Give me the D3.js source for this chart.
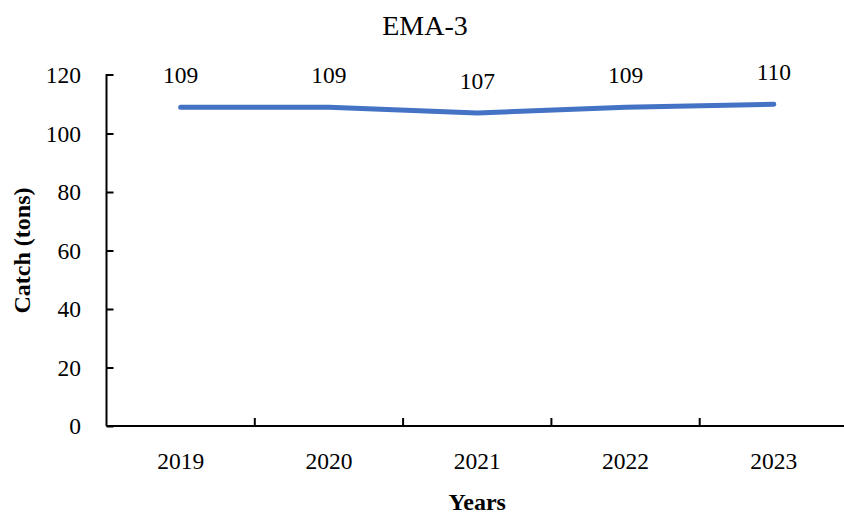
<!DOCTYPE html>
<html>
<head>
<meta charset="utf-8">
<script src="https://cdn.jsdelivr.net/npm/d3@7"></script>
<style>
  html, body { margin: 0; padding: 0; background: #fff; }
  svg { display: block; }
  text { font-family: "Palatino Linotype", "Book Antiqua", Palatino, "Liberation Serif", serif; fill: #000; }
</style>
</head>
<body>
<svg id="chart" width="844" height="515"></svg>
<script>
// Annual catch for EMA-3
const years = ["2019", "2020", "2021", "2022", "2023"];
const catchTons = [109, 109, 107, 109, 110];
const yTicks = [0, 20, 40, 60, 80, 100, 120];

const svg = d3.select("#chart");
const margin = { left: 106.5, right: -4, top: 75, bottom: 89 };
const W = 844, H = 515;

const x = d3.scaleBand().domain(years).range([margin.left, W - margin.right]).paddingInner(0).paddingOuter(0);
const y = d3.scaleLinear().domain([0, 120]).range([H - margin.bottom, margin.top]);

// Title
svg.append("text")
  .attr("x", 425).attr("y", 25)
  .attr("dy", "0.35em")
  .attr("text-anchor", "middle")
  .style("font-size", "28px")
  .text("EMA-3");

// Y axis, ticks pointing inward
const yAxis = svg.append("g")
  .attr("transform", `translate(${margin.left},0)`)
  .call(d3.axisRight(y).tickValues(yTicks).tickSize(7).tickFormat(""));
yAxis.select(".domain").attr("stroke", "#000").attr("stroke-width", 2).attr("d", `M7,${y(120)}H0V${y(0)}`);
yAxis.selectAll(".tick line").attr("stroke", "#000").attr("stroke-width", 2);
yAxis.selectAll(".tick").filter(d => d === 120).select("line").remove();

svg.append("g").selectAll("text").data(yTicks).join("text")
  .attr("x", 81).attr("y", d => y(d))
  .attr("dy", "0.35em")
  .attr("text-anchor", "end")
  .style("font-size", "23.5px")
  .text(d => d);

// X axis, ticks pointing up at band boundaries
const xg = svg.append("g").attr("transform", `translate(0,${y(0)})`);
xg.append("line")
  .attr("x1", margin.left).attr("x2", W)
  .attr("stroke", "#000").attr("stroke-width", 2);
const bounds = years.map(d => x(d) + x.bandwidth());
xg.selectAll("line.tk").data(bounds.slice(0, -1)).join("line")
  .attr("class", "tk")
  .attr("x1", d => d).attr("x2", d => d)
  .attr("y1", 0).attr("y2", -8)
  .attr("stroke", "#000").attr("stroke-width", 2);

svg.append("g").selectAll("text").data(years).join("text")
  .attr("x", d => x(d) + x.bandwidth() / 2)
  .attr("y", y(0) + 35)
  .attr("dy", "0.35em")
  .attr("text-anchor", "middle")
  .style("font-size", "23.5px")
  .text(d => d);

// Axis titles
svg.append("text")
  .attr("x", x("2021") + x.bandwidth() / 2).attr("y", 502)
  .attr("dy", "0.35em")
  .attr("text-anchor", "middle")
  .style("font-size", "24px").style("font-weight", "bold")
  .text("Years");

svg.append("text")
  .attr("transform", `translate(22,${(y(0) + y(120)) / 2}) rotate(-90)`)
  .attr("dy", "0.35em")
  .attr("text-anchor", "middle")
  .style("font-size", "24px").style("font-weight", "bold")
  .text("Catch (tons)");

// Series line
const pts = years.map((d, i) => ({ year: d, v: catchTons[i] }));
const line = d3.line()
  .x(d => x(d.year) + x.bandwidth() / 2)
  .y(d => y(d.v));
svg.append("path")
  .datum(pts)
  .attr("fill", "none")
  .attr("stroke", "#4472C4")
  .attr("stroke-width", 5)
  .attr("stroke-linecap", "round")
  .attr("stroke-linejoin", "round")
  .attr("d", line);

// Value labels
svg.append("g").selectAll("text").data(pts).join("text")
  .attr("x", d => x(d.year) + x.bandwidth() / 2)
  .attr("y", d => y(d.v) - 32)
  .attr("dy", "0.35em")
  .attr("text-anchor", "middle")
  .style("font-size", "23.5px")
  .text(d => d.v);
</script>
</body>
</html>
